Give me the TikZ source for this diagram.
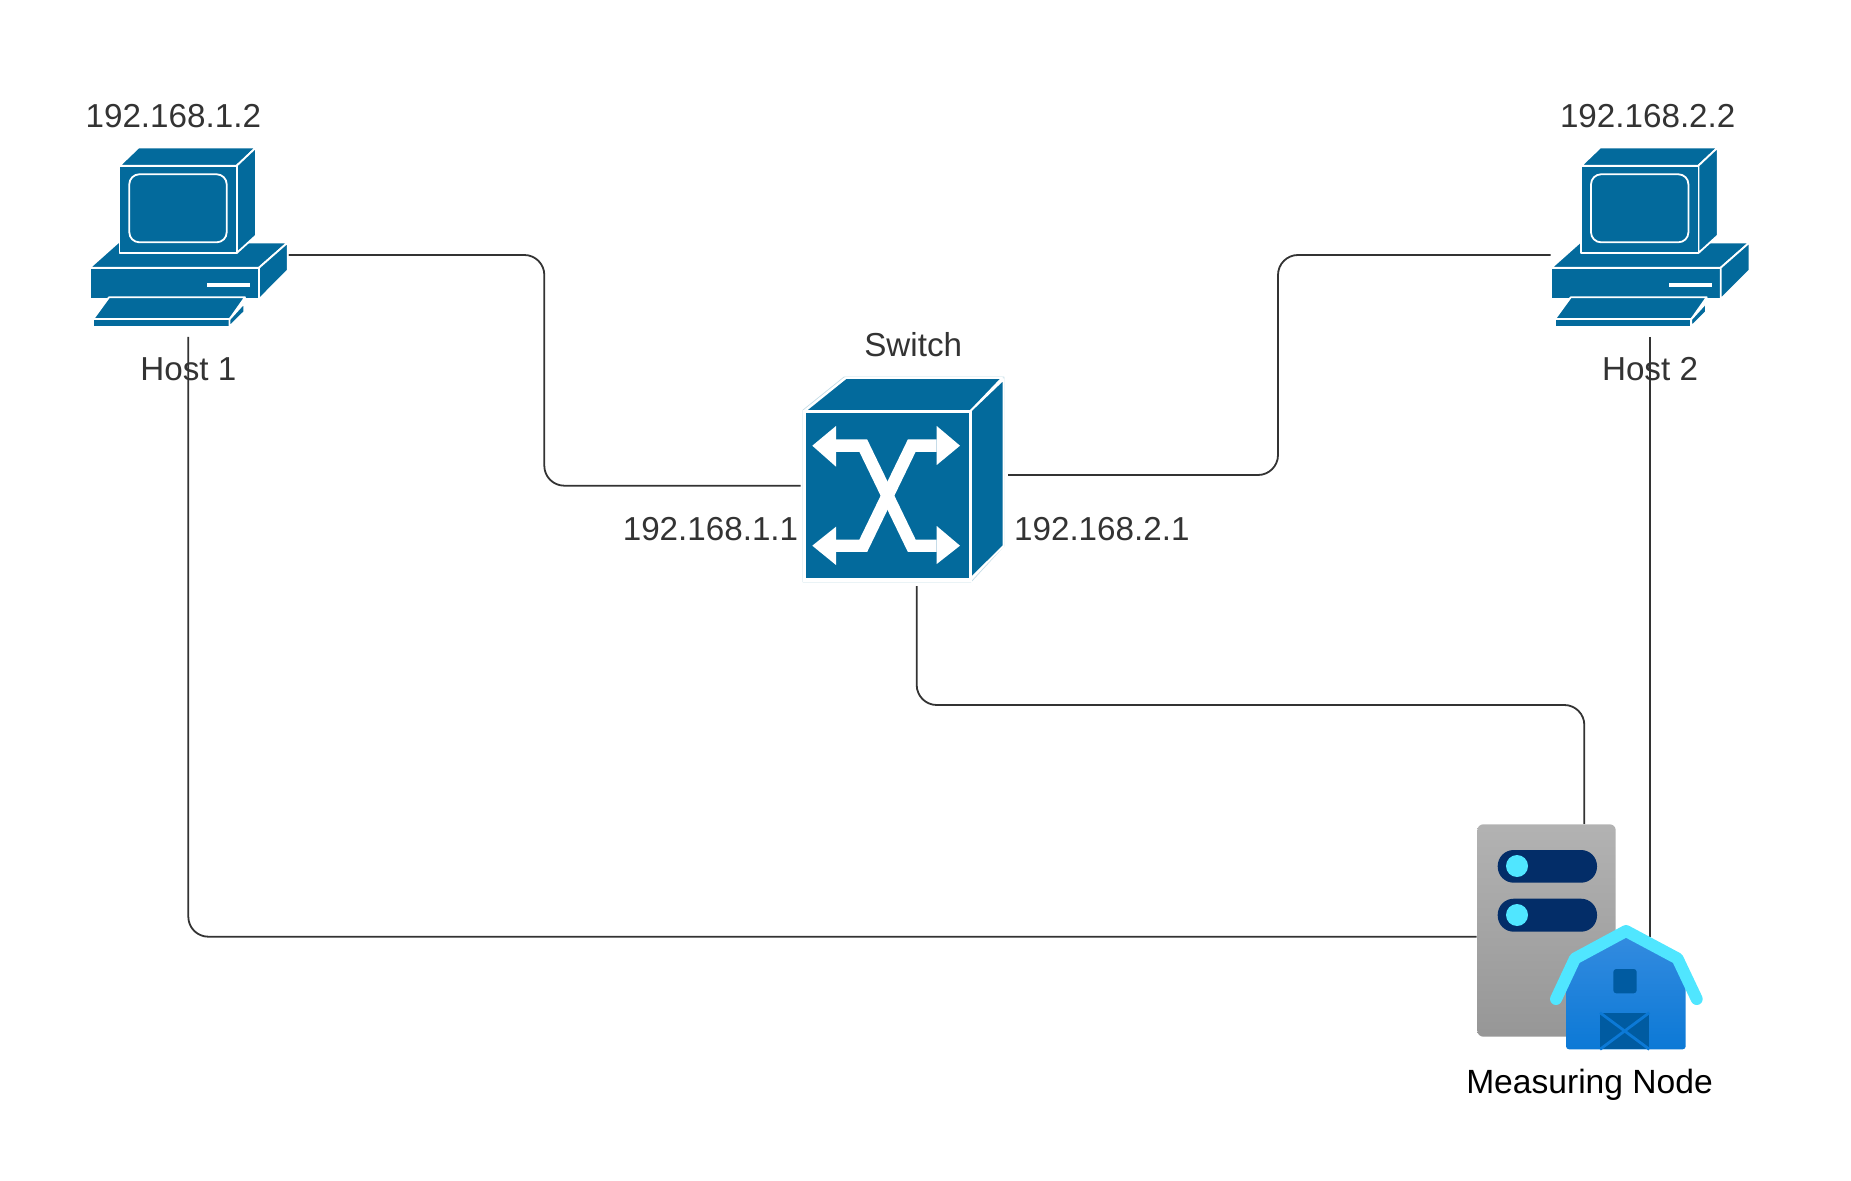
\documentclass[tikz,border=0pt]{standalone}
\usepackage{fontspec}
\setmainfont{Liberation Sans}
\definecolor{devblue}{HTML}{036A9C}
\definecolor{devedge}{HTML}{C4DCE6}
\definecolor{wiregray}{HTML}{333333}
\definecolor{pillblue}{HTML}{032D68}
\definecolor{skyblue}{HTML}{50E6FF}
\definecolor{barntop}{HTML}{358CE0}
\definecolor{barnbot}{HTML}{0C79D6}
\definecolor{barndark}{HTML}{005BA1}
\tikzset{
	wire/.style={color=wiregray, line width=0.9pt, rounded corners=10pt},
	face/.style={fill=devblue, draw=white, line width=0.9pt, line join=round},
	iplabel/.style={anchor=base, inner sep=0pt, text=wiregray, font=\fontsize{16.6}{20}\selectfont},
	pics/computer/.style={code={
		% Rechner
		\draw[face] (89.7,267.7) -- (118,242.5) -- (287.7,242.5) -- (259,267.7) -- cycle;
		\draw[face] (89.7,267.7) -- (259,267.7) -- (259,299.3) -- (89.7,299.3) -- cycle;
		\draw[face] (259,267.7) -- (287.7,242.5) -- (287.7,270.5) -- (259,299.3) -- cycle;
		\fill[white] (207,283.3) rectangle (250,287.3);
		% Monitor
		\draw[face] (119.5,165.7) -- (138.5,147.5) -- (256,147.5) -- (236.7,165.7) -- cycle;
		\draw[face] (236.7,165.7) -- (256,147.5) -- (256,235.5) -- (236.7,253) -- cycle;
		\draw[face] (119.5,165.7) rectangle (236.7,253);
		\draw[white, line width=0.9pt, rounded corners=5pt] (129.3,174.3) rectangle (226.7,242.3);
		% Tastatur
		\draw[face] (109,297.3) -- (245,297.3) -- (229.5,319.3) -- (93,319.3) -- cycle;
		\draw[face] (93,319.3) -- (229.5,319.3) -- (229.5,326.5) -- (93,326.5) -- cycle;
		\draw[face] (229.5,319.3) -- (244.3,303) -- (244.3,312) -- (229.5,326.5) -- cycle;
	}}
}
\begin{document}
\begin{tikzpicture}[x=0.5pt, y=-0.5pt]
\useasboundingbox (0,0) rectangle (1851,1181);
% Anschluesse
\coordinate (h1E) at (288.3,255);
\coordinate (h1S) at (188.3,337);
\coordinate (h2W) at (1550.7,255);
\coordinate (h2S) at (1650,337);
\coordinate (swW) at (800.7,485.7);
\coordinate (swE) at (1008,475);
\coordinate (swS) at (916.7,586);
\coordinate (mnN) at (1584.3,824);
\coordinate (mnW) at (1476.7,936.7);
\coordinate (mnR) at (1650,936.7);
\coordinate (bendA) at (544.3,485.7);
\coordinate (bendB) at (1278,255);
\coordinate (bendC) at (1584.3,705);

% Leitungen
\draw[wire] (h1E) -| (bendA) -- (swW);
\draw[wire] (swE) -| (bendB) -- (h2W);
\draw[wire] (swS) |- (bendC) -- (mnN);
\draw[wire] (h1S) |- (mnW);
\draw[wire] (h2S) -- (mnR);

% Hosts
\pic (pc1) at (0,0) {computer};
\pic (pc2) at (1461.7,0) {computer};
\node[iplabel] (ipH1) at (173.3,127.7) {192.168.1.2};
\node[iplabel] (ipH2) at (1647.7,127.7) {192.168.2.2};
\node[iplabel] (nameH1) at (188.3,381) {Host 1};
\node[iplabel] (nameH2) at (1650,381) {Host 2};

% Switch
\begin{scope}[local bounding box=Switch]
	\draw[color=devedge, line width=0.35pt, line join=round] (803,410) -- (844,377) -- (1004,377) -- (1004,546) -- (971,582) -- (803,582) -- cycle;
	\draw[face] (805,411) -- (846,378) -- (1002,378) -- (970.5,411) -- cycle;
	\draw[face] (970.5,411) -- (1003.5,379.5) -- (1003.5,546) -- (970.5,578.5) -- cycle;
	\draw[face, line width=1.6pt, line join=miter] (804.5,411.5) rectangle (970.5,580);
	\draw[white, line width=6.2pt] (836,445.7) -- (863.3,445.7) -- (911.7,545.7) -- (936.7,545.7);
	\draw[white, line width=6.2pt] (936.7,445.7) -- (911.7,445.7) -- (863.3,545.7) -- (836,545.7);
	\fill[white] (812.3,445.7) -- (836,426) -- (836,466.7) -- cycle;
	\fill[white] (960,445.7) -- (936.7,426) -- (936.7,465) -- cycle;
	\fill[white] (812.3,545.7) -- (836,526.7) -- (836,565) -- cycle;
	\fill[white] (960,545.7) -- (936.7,526) -- (936.7,564) -- cycle;
\end{scope}
\node[iplabel] (nameSw) at (913.2,357) {Switch};
\node[iplabel] (ipSwL) at (710.5,540) {192.168.1.1};
\node[iplabel] (ipSwR) at (1101.8,540) {192.168.2.1};

% Measuring Node
\begin{scope}[local bounding box=Measure]
	\shade[top color=black!30, bottom color=black!41, rounded corners=3pt] (1477.3,824.3) rectangle (1615.7,1036.7);
	\fill[pillblue, rounded corners=8pt] (1497.7,850) rectangle (1597,882.7);
	\fill[pillblue, rounded corners=8pt] (1497.7,898.7) rectangle (1597,931.7);
	\fill[skyblue] (1517,866) circle[radius=11];
	\fill[skyblue] (1517,915) circle[radius=11];
	% Scheune
	\shade[top color=barntop, bottom color=barnbot, rounded corners=1.5pt]
		(1566,1049.3) -- (1566,985) -- (1579.3,955) -- (1626,930) -- (1672,955) -- (1685.7,985) -- (1685.7,1049.3) -- cycle;
	\draw[skyblue, line width=6pt, line cap=round, line join=round]
		(1556,999) -- (1575,958.5) -- (1626,931) -- (1677.5,958.5) -- (1696.7,999);
	\fill[barndark, rounded corners=1.5pt] (1613.3,969) rectangle (1636.7,993.3);
	\fill[barndark] (1600,1012.7) rectangle (1649.3,1049.3);
	\draw[color=barnbot, line width=1.4pt] (1600,1012.7) -- (1649.3,1049.3);
	\draw[color=barnbot, line width=1.4pt] (1649.3,1012.7) -- (1600,1049.3);
\end{scope}
\node[iplabel, text=black, font=\fontsize{16.8}{20}\selectfont] (nameMn) at (1589.5,1093.3) {Measuring Node};
\end{tikzpicture}
\end{document}
